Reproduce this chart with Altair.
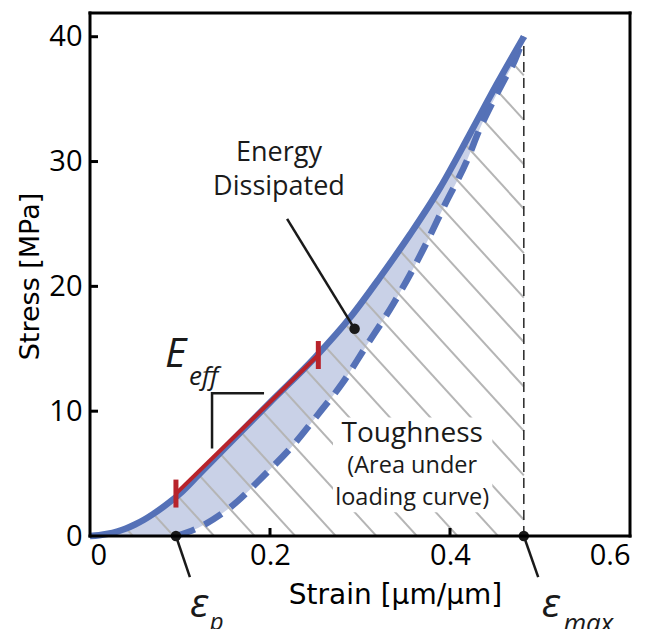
import altair as alt
import pandas as pd
import numpy as np

# ---------------- data ----------------
LOAD_X = [0.0, 0.01, 0.02, 0.03, 0.04, 0.05, 0.06, 0.07, 0.08, 0.09, 0.10, 0.12, 0.15, 0.20, 0.25, 0.289, 0.322, 0.356, 0.389, 0.422, 0.452, 0.482]
LOAD_Y = [0.0, 0.06, 0.18, 0.36, 0.6, 0.92, 1.3, 1.75, 2.25, 2.8, 3.4, 4.85, 7.05, 10.7, 14.3, 17.5, 20.7, 24.2, 27.9, 32.2, 36.2, 40.0]

UNLOAD_X = [0.0955, 0.12, 0.156, 0.194, 0.226, 0.254, 0.28, 0.305, 0.337, 0.356, 0.374, 0.394, 0.419, 0.433, 0.447, 0.460, 0.472, 0.482]
UNLOAD_Y = [0.0, 0.65, 2.3, 4.9, 7.3, 9.8, 12.2, 15.0, 18.6, 21.0, 23.5, 26.5, 30.1, 32.6, 34.7, 36.5, 38.1, 40.0]

EPS_P = 0.0955
EPS_MAX = 0.482
SIGMA_MAX = 40.0

RED_X = [0.0955, 0.2537]
RED_Y = [3.4, 14.5]

X_TICKS = [0, 0.2, 0.4, 0.6]
Y_TICKS = [0, 10, 20, 30, 40]

DOT_X = [EPS_P, EPS_MAX, 0.294]
DOT_Y = [0.0, 0.0, 16.6]

# callout segments (x, y, x2, y2)
SEG_X = [0.0955, 0.482, 0.219]
SEG_Y = [0.0, 0.0, 25.4]
SEG_X2 = [0.111, 0.498, 0.294]
SEG_Y2 = [-3.3, -3.3, 16.6]

BRACKET_X = [0.192, 0.1356, 0.1356]
BRACKET_Y = [11.44, 11.44, 7.12]

# white box behind the toughness label
BOX_X = [0.27]
BOX_X2 = [0.447]
BOX_Y = [1.9]
BOX_Y2 = [9.5]

# hatch pattern (styling): slope in data units, spacing at eps_max
HATCH_SLOPE = 79.0
HATCH_STEP = 3.56
HATCH_TOP = 36.9

X_DOMAIN = [0, 0.6]
Y_DOMAIN = [0, 41.9]

BLUE = "#5571B7"
BAND = "#C9D1E7"
RED = "#B8232B"
HATCH = "#B5B5B5"
INK = "#1A1A1A"

W, H = 540, 523

# ---------------- tables ----------------
load_df = pd.DataFrame({"x": LOAD_X, "y": LOAD_Y})
unload_df = pd.DataFrame({"x": UNLOAD_X, "y": UNLOAD_Y})

offs = np.arange(HATCH_TOP, -42, -HATCH_STEP)
hx, hy, hid = [], [], []
x_left = -0.05
for i, c in enumerate(offs):
    hx += [EPS_MAX, x_left]
    hy += [c, c + HATCH_SLOPE * (EPS_MAX - x_left)]
    hid += [i, i]
hatch_df = pd.DataFrame({"x": hx, "y": hy, "id": hid})

red_df = pd.DataFrame({"x": RED_X, "y": RED_Y})
red_tick_df = pd.DataFrame({"x": RED_X, "y": [v - 1.12 for v in RED_Y], "y2": [v + 1.12 for v in RED_Y]})
dot_df = pd.DataFrame({"x": DOT_X, "y": DOT_Y})
seg_df = pd.DataFrame({"x": SEG_X, "y": SEG_Y, "x2": SEG_X2, "y2": SEG_Y2})
br_df = pd.DataFrame({"x": BRACKET_X, "y": BRACKET_Y, "o": [0, 1, 2]})
box_df = pd.DataFrame({"x": BOX_X, "x2": BOX_X2, "y": BOX_Y, "y2": BOX_Y2})
vline_df = pd.DataFrame({"x": [EPS_MAX], "y": [0.0], "y2": [SIGMA_MAX]})
xt_df = pd.DataFrame({"x": X_TICKS[1:-1]})
yt_df = pd.DataFrame({"y": Y_TICKS[1:]})
one = pd.DataFrame({"a": [0]})

xs = alt.Scale(domain=X_DOMAIN, nice=False, zero=False)
ys = alt.Scale(domain=Y_DOMAIN, nice=False, zero=False)

x_axis = alt.Axis(values=X_TICKS, format="~g", ticks=False, domain=False, grid=False,
                  labelFont="Open Sans", labelFontSize=29, labelColor="black", labelPadding=5,
                  title="Strain [µm/µm]", titleFont="DejaVu Sans", titleFontSize=28,
                  titleFontWeight="normal", titleColor="black", titleX=305, titleY=67,
                  titleBaseline="alphabetic", titleAlign="center")
y_axis = alt.Axis(values=Y_TICKS, format="d", ticks=False, domain=False, grid=False,
                  labelFont="Open Sans", labelFontSize=29, labelColor="black", labelPadding=8,
                  title="Stress [MPa]", titleFont="DejaVu Sans", titleFontSize=27,
                  titleFontWeight="normal", titleColor="black", titleX=-52, titleY=263,
                  titleBaseline="alphabetic", titleAlign="center", titleAngle=-90)


def X(f="x"):
    return alt.X(f"{f}:Q", scale=xs, axis=x_axis, title="Strain [µm/µm]")


def Y(f="y"):
    return alt.Y(f"{f}:Q", scale=ys, axis=y_axis, title="Stress [MPa]")


band = alt.Chart(load_df).mark_area(color=BAND, interpolate="monotone", opacity=1).encode(x=X(), y=Y())
under_unload = alt.Chart(unload_df).mark_area(color="white", interpolate="monotone", opacity=1).encode(x=X(), y=Y())
hatch = alt.Chart(hatch_df).mark_line(color=HATCH, strokeWidth=2, clip=True).encode(x=X(), y=Y(), detail="id:N")
mask = alt.Chart(load_df).mark_area(color="white", interpolate="monotone", opacity=1, clip=True).encode(
    x=X(), y=Y(), y2=alt.datum(Y_DOMAIN[1]))
box = alt.Chart(box_df).mark_rect(color="white", opacity=1).encode(x=X(), x2="x2", y=Y(), y2="y2")
vline = alt.Chart(vline_df).mark_rule(color="#333333", strokeWidth=1.6, strokeDash=[10, 6]).encode(x=X(), y=Y(), y2="y2")
unload_line = alt.Chart(unload_df).mark_line(color=BLUE, strokeWidth=6.5, strokeDash=[20, 11], interpolate="monotone").encode(x=X(), y=Y())
load_line = alt.Chart(load_df).mark_line(color=BLUE, strokeWidth=6.5, interpolate="monotone").encode(x=X(), y=Y())
red_line = alt.Chart(red_df).mark_line(color=RED, strokeWidth=4).encode(x=X(), y=Y())
red_ticks = alt.Chart(red_tick_df).mark_rule(color=RED, strokeWidth=5).encode(x=X(), y=Y(), y2="y2")
bracket = alt.Chart(br_df).mark_line(color=INK, strokeWidth=2.5, strokeCap="square").encode(x=X(), y=Y(), order="o:Q")
segs = alt.Chart(seg_df).mark_rule(color=INK, strokeWidth=2.5).encode(x=X(), y=Y(), x2="x2", y2="y2")
dots = alt.Chart(dot_df).mark_circle(color=INK, size=110, opacity=1).encode(x=X(), y=Y())

xticks = alt.Chart(xt_df).mark_rule(color="black", strokeWidth=3).encode(
    x=X(), y=alt.value(H), y2=alt.value(H - 8))
yticks = alt.Chart(yt_df).mark_rule(color="black", strokeWidth=3).encode(
    y=Y(), x=alt.value(0), x2=alt.value(8))

# frame drawn on top of the masks
frame_kw = dict(color="black", strokeWidth=3, strokeCap="square")
frame = [
    alt.Chart(one).mark_rule(**frame_kw).encode(x=alt.value(0), x2=alt.value(W), y=alt.value(0)),
    alt.Chart(one).mark_rule(**frame_kw).encode(x=alt.value(0), x2=alt.value(W), y=alt.value(H)),
    alt.Chart(one).mark_rule(**frame_kw).encode(x=alt.value(0), y=alt.value(0), y2=alt.value(H)),
    alt.Chart(one).mark_rule(**frame_kw).encode(x=alt.value(W), y=alt.value(0), y2=alt.value(H)),
]

# annotations
TXT = [
    # text, x, y, size, italic, align
    ("Energy", 0.21, 30.05, 27, False, "center"),
    ("Dissipated", 0.21, 27.35, 27, False, "center"),
    ("Toughness", 0.358, 7.5, 28, False, "center"),
    ("(Area under", 0.358, 5.05, 23.5, False, "center"),
    ("loading curve)", 0.358, 2.5, 23.5, False, "center"),
    ("E", 0.0833, 13.54, 41, True, "left"),
    ("eff", 0.11, 12.1, 26, True, "left"),
    ("ε", 0.111, -6.49, 41, True, "left"),
    ("p", 0.133, -7.55, 24, True, "left"),
    ("ε", 0.502, -6.49, 41, True, "left"),
    ("max", 0.526, -7.7, 26, True, "left"),
]
texts = []
for t, tx, ty, sz, it, al in TXT:
    d = pd.DataFrame({"x": [tx], "y": [ty], "t": [t]})
    texts.append(alt.Chart(d).mark_text(font="Open Sans", fontSize=sz, fontStyle="italic" if it else "normal",
                                        align=al, baseline="alphabetic", color=INK).encode(x=X(), y=Y(), text="t:N"))

chart = alt.layer(band, under_unload, hatch, mask, box, vline, unload_line, load_line,
                  red_line, red_ticks, bracket, segs, dots, xticks, yticks, *frame, *texts).properties(
    width=W, height=H,
    background="white",
    autosize=alt.AutoSizeParams(type="none"),
    padding={"left": 82, "top": 5, "right": 18, "bottom": 93},
).configure_view(stroke=None)

chart.save("out.html", embed_options={"renderer": "svg", "actions": False})
